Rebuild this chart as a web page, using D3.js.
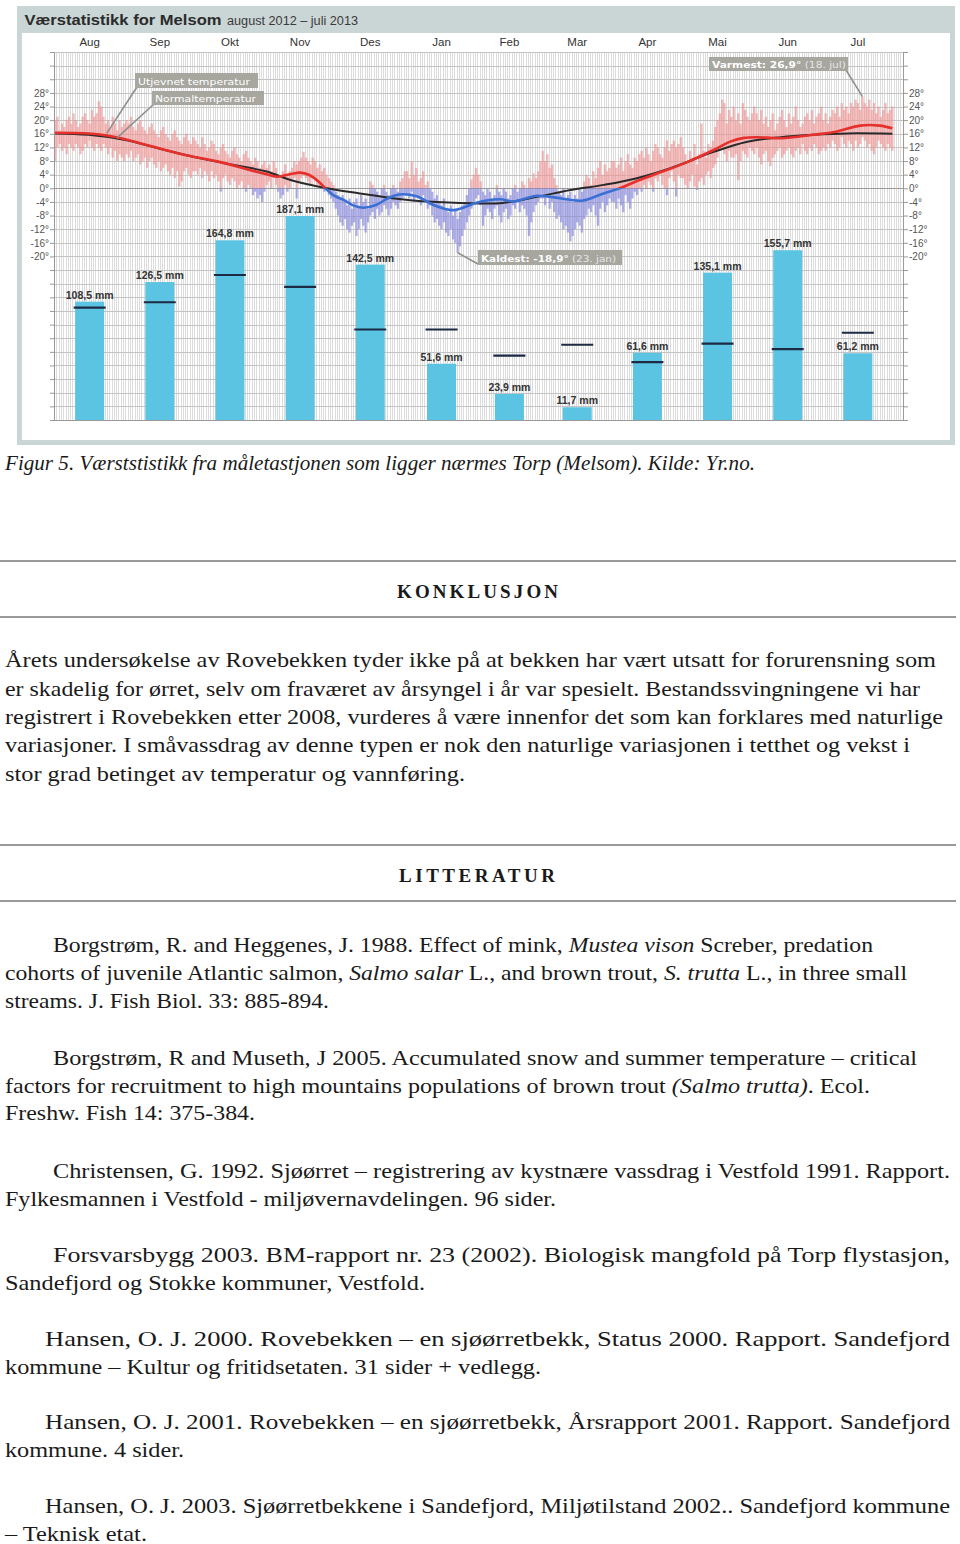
<!DOCTYPE html>
<html><head><meta charset="utf-8">
<script src="https://cdn.jsdelivr.net/npm/d3@7"></script>
<style>body{margin:0;background:#fff}svg{display:block}</style>
</head><body><svg id="c" width="960" height="1544"></svg>
<script>
// ---------- DATA ----------
const months = ["Aug","Sep","Okt","Nov","Des","Jan","Feb","Mar","Apr","Mai","Jun","Jul"];
const precip = [108.5,126.5,164.8,187.1,142.5,51.6,23.9,11.7,61.6,135.1,155.7,61.2];
const precipNormal = [103,108,133,122,83,83,59,69,53,70,65,80];
const tempTickLabels = [-20,-16,-12,-8,-4,0,4,8,12,16,20,24,28];

// daily max / min temperature (°C), 1 Aug 2012 – 31 Jul 2013, month by month
const tempMax = [
  20,21,17,19,18,20,21,19,22,20,18,19,21,22,20,19,23,21,22,25.5,24,21,19,20,18,21,19,17,20,18,19, // Aug
  20,19,21,18,17,19,20,18,17,16,18,19,17,16,15,17,18,16,15,14,16,17,15,14,13,15,16,14,13,15,      // Sep
  14,13,12,15,13,11,12,14,13,11,10,12,13,11,10,9,11,12,10,9,8,10,11,9,8,7,9,8,6,7,8,               // Okt
  6,7,5,8,6,4,3,5,7,4,5,6,8,7,8,9,10.7,9,8,7,9,8,6,7,5,6,4,3,2,1,                                 // Nov
  -1,-2,-3,-2,-4,-5,-3,-6,-4,-3,-5,-2,-4,-3,-6,2,1,0,-1,-2,0,1,-1,-2,0,1,0,-1,2,3,5,              // Des
  5,3,7.8,4,6,2,3,5,1,2,0,-1,-3,-2,-4,-5,-3,-6,-7,-5,-8,-6,-9,-7,-5,-4,-2,0,2.6,4,6,               // Jan
  4,2,-1,-2,0,-1,-3,-2,1,-1,-2,0,-1,-3,-2,0,1,-1,0,2,1,0,3,2,4.4,3,5,8,                            // Feb
  11,8,10,6,7,3,1,-1,-2,0,-3,-2,-1,-4,-2,-3,0,-1,2,4,3,1,5,3,6,8,4,7,5,6,8,                        // Mar
  8,6,7,9,5,8,10,7,6,9,8,10,11,9,12,10,8,11,13,12,10,9,12,14,11,13,14,12,13,15,                    // Apr
  12,10,8,11,9,13,7,10,19,11,9,13,12,14,18,20,22,26,25,19,23,21,24,20,22,19,25,23,21,20,22,        // Mai
  24,22,20,23,19,21,18,20,22,17,19,21,23,20,18,22,19,21,24,20,18,19,21,22,20,23,19,21,22,24,       // Jun
  20,22,19,21,23,22,24,21,25,23,24,22,25,24,26,25,23,26.9,25,24,26,23,25,22,24,21,23,25,22,23,24   // Jul
];
const tempMin = [
  8,12,13,11,12,10,13,12,11,13,12,10,11,13,12,14,12,11,13,12,11,13,12,10,12,9,11,8,10,9,8,         // Aug
  10,9,11,8,9,10,7,8,9,6,8,9,7,6,8,5,6,7,5,4,6,3,5,0.5,2,5,6,4,3,5,                                 // Sep
  5,4,6,3,5,4,2,5,3,4,2,-1,3,4,2,1,3,2,0,1,2,0,-1,1,0,-2,-1,-3,-2,-4,-1,                            // Okt
  1,2,0,3,1,-1,-3,-2,1,-1,0,2,3,-3,2,3,4,3,2,1,3,2,1,0,1,-1,0,-2,-3,-4,                             // Nov
  -6,-8,-10,-11,-9,-12,-13,-11,-10,-14,-12,-9,-11,-13,-10,-8,-7,-9,-6,-8,-7,-5,-6,-8,-6,-4,-5,-6,-4,-3,-2, // Des
  -2,-3,-1,-4,-2,-3,-5,-2,-4,-6,-5,-8,-10,-9,-11,-12,-10,-13,-14,-12,-15,-16,-18.9,-17,-14,-12,-10,-8,-6,-4,-3, // Jan
  -2,-5,-11,-8,-6,-7,-9,-6,-5,-8,-10,-7,-6,-9,-8,-5,-6,-4,-7,-5,-6,-8,-14,-10,-7,-5,-4,-3,         // Feb
  -3,-5,-2,-6,-4,-7,-9,-8,-10,-12,-11,-13,-15.6,-14,-12,-10,-11,-13,-9,-8,-6,-7,-5,-8,-11,-6,-4,-7,-5,-3,-4, // Mar
  -4,-6,-3,-5,-7,-2,-4,-6,-3,-1,-2,0,-1,1,0,2,1,-1,3,2,4,1,0,-2,3,5,2,-2.4,4,3,                    // Apr
  3,1,0,2,4,0.5,-0.5,2,3,1,4,5,3,6,7,9,11,12,10,8,11,9,9,10,2.4,8,11,10,9,12,11,                    // Mai
  10,12,9,7,10,11,8,6.5,9,10,11,12,9,10,11,12,10,9,11,12,10,13,11,10,12,11,13,12,10,11,            // Jun
  12,11,13,12,14,13,11,12,15,13,12,14,13,11,14,12,13,15,14,12,13,11,10,12,14,13,12,11,13,12,11     // Jul
];

// smoothed ("Utjevnet") temperature: day index since 1 Aug 2012, °C
const smoothDays = [0,15,23,31,42,56,71,85,92,97,103,107,111,115,118,122,126,130,134.5,140,145,150,158,165,173.6,183,188,194,200,205,210,220,226,230,239,246,253,260.5,274,287,294,300,305.6,316,330,340,350.5,359,364.5];
const smoothTemp = [16.3,16.1,15.5,14.4,12.4,9.9,7.9,5.4,4.2,3.4,4.2,4.6,3.9,2,0,-2.2,-3.4,-5,-5.7,-4.9,-3,-1.8,-2.4,-4.9,-6.4,-4.4,-3.6,-3.2,-3.9,-3,-2.2,-2.9,-3.5,-3.6,-1.5,0,2,3.9,7.3,11.3,13.7,14.8,15,14.7,15.7,16.6,18.4,18.4,17.6];

// normal temperature
const normalDays = [0,15,31,46,61,76,92,104,118.7,133,147,162,182,195,210,224,239,253,268,286.5,301,316,330,345,364.5];
const normalTemp = [16.1,15.7,14.2,11.6,9.2,7.1,5,2.2,0,-1.5,-2.9,-3.9,-4.4,-4.3,-2.5,-0.6,1,2.9,5.9,10.6,13.6,15,15.7,16.1,16];

// ---------- CHART ----------
const svg = d3.select("#c");
const sans = "'Liberation Sans', Arial, sans-serif";
const start = new Date(Date.UTC(2012,7,1)), end = new Date(Date.UTC(2013,7,1));
const dayDate = d => new Date(start.getTime() + d*86400000);
const x = d3.scaleUtc().domain([start,end]).range([54,893.5]);
const yT = d3.scaleLinear().domain([-68,40]).range([420,52]);
const yP = d3.scaleLinear().domain([0,337.5]).range([420,52]);
const PL = 54, PR = 903;

// frame
svg.append("rect").attr("x",17).attr("y",6).attr("width",938).attr("height",439).attr("fill","#cad5d5");
svg.append("rect").attr("x",22).attr("y",33).attr("width",928).attr("height",407).attr("fill","#fff");
svg.append("text").attr("x",24.5).attr("y",25).attr("font-family",sans).attr("font-weight","bold")
  .attr("font-size",15.5).attr("fill","#2b2b2b").attr("textLength",197).attr("lengthAdjust","spacingAndGlyphs")
  .text("Værstatistikk for Melsom");
svg.append("text").attr("x",227).attr("y",25).attr("font-family",sans)
  .attr("font-size",12).attr("fill","#3a3a3a").attr("textLength",131).attr("lengthAdjust","spacingAndGlyphs")
  .text("august 2012 – juli 2013");

// grid
const grid = svg.append("g");
const vdays = d3.range(0,371).filter(d => x(dayDate(d)) <= PR);
grid.selectAll("line.v").data(vdays).join("line")
  .attr("x1", d => Math.round(x(dayDate(d)))+0.5).attr("x2", d => Math.round(x(dayDate(d)))+0.5)
  .attr("y1",52).attr("y2",420).attr("stroke","#dcdcdc").attr("stroke-width",1);
grid.selectAll("line.h").data(d3.range(-68,41,4)).join("line")
  .attr("x1",PL).attr("x2",PR).attr("y1", d => Math.round(yT(d))+0.5).attr("y2", d => Math.round(yT(d))+0.5)
  .attr("stroke", d => d===0 ? "#9a9a9a" : "#c4c4c4").attr("stroke-width",1);

// month labels
const monthStart = i => new Date(Date.UTC(2012,7+i,1));
const mCenter = i => (x(monthStart(i)) + x(monthStart(i+1)))/2;
svg.append("g").selectAll("text").data(months).join("text")
  .attr("x",(d,i)=>mCenter(i)).attr("y",46).attr("text-anchor","middle")
  .attr("font-family",sans).attr("font-size",11.5).attr("fill","#333").text(d=>d);

// clips
const defs = svg.append("defs");
defs.append("clipPath").attr("id","above").append("rect").attr("x",PL).attr("y",40).attr("width",PR-PL).attr("height",yT(0)-40);
defs.append("clipPath").attr("id","below").append("rect").attr("x",PL).attr("y",yT(0)).attr("width",PR-PL).attr("height",420-yT(0));

// daily temperature bars
const daily = tempMax.map((mx,i)=>({i, mx, mn: tempMin[i]}));
[["above","#ef8f8f",0.62],["below","#8585dd",0.65]].forEach(([clip,col,op])=>{
  svg.append("g").attr("clip-path",`url(#${clip})`).selectAll("rect").data(daily).join("rect")
    .attr("x", d => x(dayDate(d.i))).attr("width", d => x(dayDate(d.i+1)) - x(dayDate(d.i)))
    .attr("y", d => yT(d.mx)).attr("height", d => yT(d.mn) - yT(d.mx))
    .attr("fill",col).attr("opacity",op);
});

// precipitation bars
const pg = svg.append("g");
pg.selectAll("rect").data(precip).join("rect")
  .attr("x",(d,i)=>mCenter(i)-14.5).attr("width",29)
  .attr("y",d=>yP(d)).attr("height",d=>yP(0)-yP(d)).attr("fill","#5bc4e2");
pg.selectAll("line").data(precipNormal).join("line")
  .attr("x1",(d,i)=>mCenter(i)-16).attr("x2",(d,i)=>mCenter(i)+16)
  .attr("y1",d=>yP(d)).attr("y2",d=>yP(d)).attr("stroke","#1c2a44").attr("stroke-width",2.2);
pg.selectAll("text").data(precip).join("text")
  .attr("x",(d,i)=>mCenter(i)).attr("y",d=>yP(d)-3).attr("text-anchor","middle")
  .attr("font-family",sans).attr("font-weight","bold").attr("font-size",10.5).attr("fill","#333")
  .text(d => d3.format(".1f")(d).replace(".",",") + " mm");

// temperature lines
const line = d3.line().x(d=>x(dayDate(d[0]))).y(d=>yT(d[1])).curve(d3.curveCatmullRom.alpha(0.5));
svg.append("path").attr("d", line(normalDays.map((d,i)=>[d,normalTemp[i]])))
  .attr("fill","none").attr("stroke","#2a2a2a").attr("stroke-width",2);
const sPts = smoothDays.map((d,i)=>[d,smoothTemp[i]]);
svg.append("path").attr("clip-path","url(#above)").attr("d",line(sPts))
  .attr("fill","none").attr("stroke","#e5302c").attr("stroke-width",2.6);
svg.append("path").attr("clip-path","url(#below)").attr("d",line(sPts))
  .attr("fill","none").attr("stroke","#3a70d4").attr("stroke-width",2.6);

// axes
const ticks = d3.range(-68,41,4);
const fmt = d => tempTickLabels.includes(d) ? d+"°" : "";
const axL = svg.append("g").attr("transform",`translate(${PL},0)`)
  .call(d3.axisLeft(yT).tickValues(ticks).tickFormat(fmt).tickSizeInner(4).tickSizeOuter(0).tickPadding(1));
const axR = svg.append("g").attr("transform",`translate(${PR},0)`)
  .call(d3.axisRight(yT).tickValues(ticks).tickFormat(fmt).tickSizeInner(5).tickSizeOuter(0).tickPadding(1));
[axL,axR].forEach(a=>{
  a.select(".domain").attr("stroke","#999");
  a.selectAll(".tick line").attr("stroke","#999");
  a.selectAll("text").attr("font-family",sans).attr("font-size",10).attr("fill","#555");
});
svg.append("line").attr("x1",PL).attr("x2",PR).attr("y1",420.5).attr("y2",420.5).attr("stroke","#999");

// annotations
function note(bx,by,bw,bh,parts,tl,from,to){
  svg.append("line").attr("x1",from[0]).attr("y1",from[1]).attr("x2",to[0]).attr("y2",to[1])
    .attr("stroke","#8f8f8f").attr("stroke-width",1.6);
  svg.append("rect").attr("x",bx).attr("y",by).attr("width",bw).attr("height",bh).attr("fill","#a7a7a0");
  const t = svg.append("text").attr("x",bx+3).attr("y",by+bh-3.5).attr("font-family","'DejaVu Sans', Verdana, sans-serif")
    .attr("font-size",9.5).attr("textLength",tl).attr("lengthAdjust","spacingAndGlyphs");
  parts.forEach(([s,b,c])=> t.append("tspan").attr("font-weight",b?"bold":"normal").attr("fill",c).text(s));
}
note(135,73,123,15,[["Utjevnet temperatur",false,"#fff"]],112,[137,87],[x(dayDate(22.9)),yT(16.1)]);
note(152,91,112,14,[["Normaltemperatur",false,"#fff"]],101,[154,104],[x(dayDate(27.4)),yT(14.8)]);
note(709,57,139,14,[["Varmest: 26,9°",true,"#fff"],["  (18. jul)",false,"#e6e6e6"]],134,[846,70],[x(dayDate(351.5)),yT(26.9)]);
note(478,250,144,15,[["Kaldest: -18,9°",true,"#fff"],["  (23. jan)",false,"#e6e6e6"]],135,[x(dayDate(175.5)),yT(-18.9)],[478,264]);

// ---------- TEXT ----------
const serif = "'Liberation Serif', 'Times New Roman', serif";
function tline(xp,yb,w,parts,opts={}){
  const t = svg.append("text").attr("x",xp).attr("y",yb).attr("font-family",serif)
    .attr("font-size",opts.size||21.5).attr("fill","#1a1a1a");
  if(w) t.attr("textLength",w).attr("lengthAdjust",opts.adjust||"spacingAndGlyphs");
  if(opts.weight) t.attr("font-weight",opts.weight);
  if(opts.italic) t.attr("font-style","italic");
  parts.forEach(p=>{
    if(typeof p === "string") t.append("tspan").text(p);
    else t.append("tspan").attr("font-style","italic").text(p[0]);
  });
}
tline(5,470,750,["Figur 5. Værststistikk fra måletastjonen som ligger nærmes Torp (Melsom). Kilde: Yr.no."],{italic:true});

function rule(y){ svg.append("line").attr("x1",0).attr("x2",956).attr("y1",y).attr("y2",y).attr("stroke","#999").attr("stroke-width",2); }
rule(561); rule(617); rule(845); rule(901);
tline(397,598,161,["KONKLUSJON"],{size:19,weight:"bold",adjust:"spacing"});
tline(399,882,156,["LITTERATUR"],{size:19,weight:"bold",adjust:"spacing"});

const para = [
  [5,667,931,["Årets undersøkelse av Rovebekken tyder ikke på at bekken har vært utsatt for forurensning som"]],
  [5,695.5,915,["er skadelig for ørret, selv om fraværet av årsyngel i år var spesielt. Bestandssvingningene vi har"]],
  [5,724,938,["registrert i Rovebekken etter 2008, vurderes å være innenfor det som kan forklares med naturlige"]],
  [5,752,905,["variasjoner. I småvassdrag av denne typen er nok den naturlige variasjonen i tetthet og vekst i"]],
  [5,780.5,460,["stor grad betinget av temperatur og vannføring."]],
  [53,952,820,["Borgstrøm, R. and Heggenes, J. 1988. Effect of mink, ",["Mustea vison"]," Screber, predation"]],
  [5,980,902,["cohorts of juvenile Atlantic salmon, ",["Salmo salar"]," L., and brown trout, ",["S. trutta"]," L., in three small"]],
  [5,1008,324,["streams. J. Fish Biol. 33: 885-894."]],
  [53,1065,864,["Borgstrøm, R and Museth, J 2005. Accumulated snow and summer temperature – critical"]],
  [5,1092.5,865,["factors for recruitment to high mountains populations of brown trout ",["(Salmo trutta)"],". Ecol."]],
  [5,1120,250,["Freshw. Fish 14: 375-384."]],
  [53,1177.5,897,["Christensen, G. 1992. Sjøørret – registrering av kystnære vassdrag i Vestfold 1991. Rapport."]],
  [5,1205.5,551,["Fylkesmannen i Vestfold - miljøvernavdelingen. 96 sider."]],
  [53,1261.5,897,["Forsvarsbygg 2003. BM-rapport nr. 23 (2002). Biologisk mangfold på Torp flystasjon,"]],
  [5,1289.5,420,["Sandefjord og Stokke kommuner, Vestfold."]],
  [45,1345.5,905,["Hansen, O. J. 2000. Rovebekken – en sjøørretbekk, Status 2000. Rapport. Sandefjord"]],
  [5,1373.5,536,["kommune – Kultur og fritidsetaten. 31 sider + vedlegg."]],
  [45,1429,905,["Hansen, O. J. 2001. Rovebekken – en sjøørretbekk, Årsrapport 2001. Rapport. Sandefjord"]],
  [5,1457,179,["kommune. 4 sider."]],
  [45,1512.5,905,["Hansen, O. J. 2003. Sjøørretbekkene i Sandefjord, Miljøtilstand 2002.. Sandefjord kommune"]],
  [5,1540.5,142,["– Teknisk etat."]]
];
para.forEach(([xp,yb,w,parts])=>tline(xp,yb,w,parts));
</script></body></html>
